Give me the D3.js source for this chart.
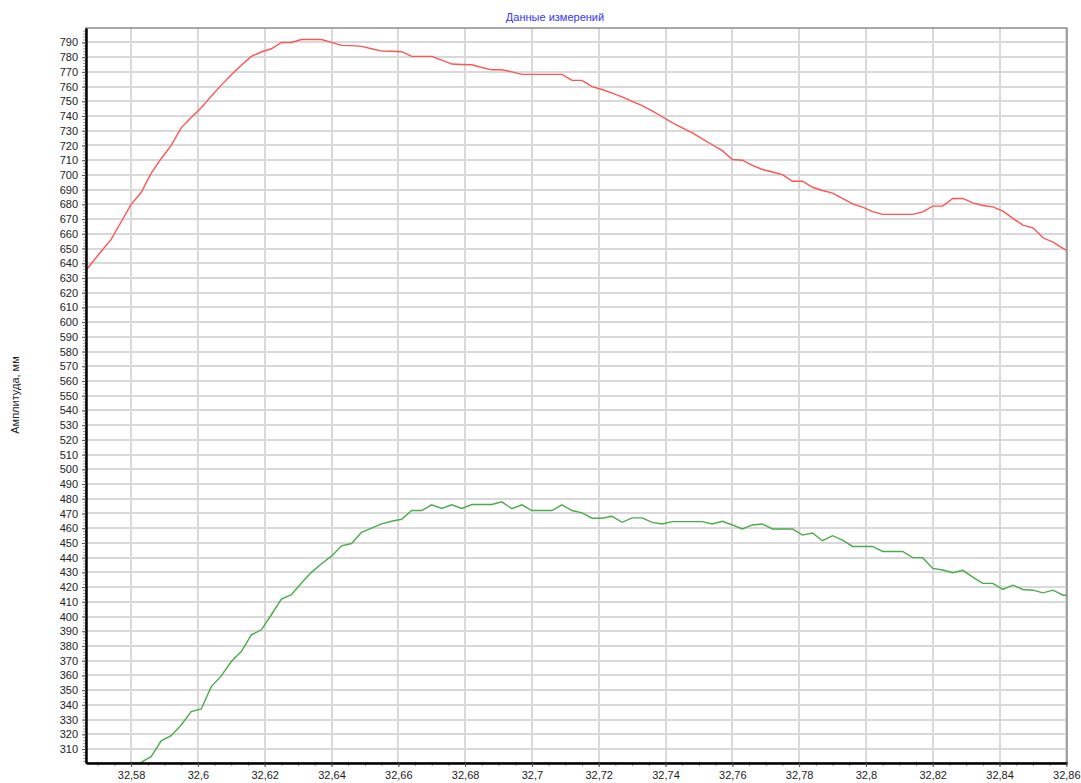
<!DOCTYPE html>
<html>

<head>
    <meta charset="utf-8">
    <script src="https://d3js.org/d3.v7.min.js"></script>
    <style>
        body { margin: 0; background: #fff; }
        text { font-family: "Liberation Sans", Arial, sans-serif; }
    </style>
</head>

<body>
    <div id="chart"></div>

    <script>
        // measured positions (x axis) and the two amplitude series
        const xs = [32.565, 32.568, 32.571, 32.574, 32.577, 32.580, 32.583, 32.586, 32.589, 32.592,
            32.595, 32.598, 32.601, 32.604, 32.607, 32.610, 32.613, 32.616, 32.619, 32.622,
            32.625, 32.628, 32.631, 32.634, 32.637, 32.640, 32.643, 32.646, 32.649, 32.652,
            32.655, 32.658, 32.661, 32.664, 32.667, 32.670, 32.673, 32.676, 32.679, 32.682,
            32.685, 32.688, 32.691, 32.694, 32.697, 32.700, 32.703, 32.706, 32.709, 32.712,
            32.715, 32.718, 32.721, 32.724, 32.727, 32.730, 32.733, 32.736, 32.739, 32.742,
            32.745, 32.748, 32.751, 32.754, 32.757, 32.760, 32.763, 32.766, 32.769, 32.772,
            32.775, 32.778, 32.781, 32.784, 32.787, 32.790, 32.793, 32.796, 32.799, 32.802,
            32.805, 32.808, 32.811, 32.814, 32.817, 32.820, 32.823, 32.826, 32.829, 32.832,
            32.835, 32.838, 32.841, 32.844, 32.847, 32.850, 32.853, 32.856, 32.859, 32.862]

        const redValues = [631, 639.5, 648, 656, 668, 680, 688, 701, 711, 720,
            732, 739, 745.6, 753.5, 761, 768, 774.5, 780.5, 783.5, 785.7,
            790, 790, 792, 792, 792, 790, 788, 787.8, 787.3, 785.7,
            784.1, 784, 783.7, 780.5, 780.5, 780.5, 778, 775.3, 775, 774.8,
            773, 771.4, 771.4, 770, 768.3, 768.3, 768.3, 768.3, 768.3, 764.2,
            764.2, 760, 758, 755.5, 753, 750, 747, 743.5, 739.5, 735.5,
            732, 728.5, 724.5, 720.5, 716.5, 710.5, 710, 706.5, 703.7, 702,
            700.2, 695.7, 695.7, 691.6, 689.4, 687.6, 684, 680.3, 678.1, 675,
            673.2, 673.2, 673.2, 673.2, 674.9, 678.8, 678.8, 684, 684, 681,
            679.2, 678.3, 675.4, 670.5, 665.9, 664.1, 657.3, 654.4, 650.1, 646.5]

        const greenValues = [null, null, null, null, null, 296.5, 301, 304.8, 315.6, 319.1,
            326.3, 335.4, 337.2, 352.4, 359.7, 369.4, 376.2, 387.6, 391, 401.2,
            411.9, 414.8, 422.8, 430, 435.9, 441, 448, 449.6, 457.2, 460.1,
            462.9, 464.7, 466.1, 472, 472, 475.9, 473.4, 475.9, 473.4, 476.1,
            476.1, 476.1, 477.9, 473.2, 475.9, 472, 472, 472, 475.9, 472,
            470.4, 466.8, 466.8, 468.1, 464, 467, 467, 464, 462.9, 464.5,
            464.5, 464.5, 464.5, 462.9, 464.7, 462.2, 459.5, 462.2, 462.9, 459.5,
            459.5, 459.5, 455.3, 456.7, 451.5, 454.9, 451.9, 447.6, 447.6, 447.6,
            444.2, 444.2, 444.2, 440, 440, 432.7, 431.6, 429.8, 431.4, 426.8,
            422.5, 422.5, 418.4, 421.3, 418.4, 417.9, 416.1, 417.9, 414.5, 414.5]

        // tick values
        const xTicks = [32.58, 32.60, 32.62, 32.64, 32.66, 32.68, 32.70, 32.72, 32.74, 32.76, 32.78, 32.80, 32.82, 32.84, 32.86]
        const yTicks = d3.range(310, 791, 10)
        const yMinorTicks = d3.range(302, 800, 2)
        const xMinorTicks = d3.range(32.570, 32.8601, 0.005)

        const titleText = "Данные измерений"
        const yLabelText = "Амплитуда, мм"

        // layout
        const W = 1081, H = 783
        const margin = { top: 28, right: 14, bottom: 20, left: 86 }
        const width = W - margin.left - margin.right,
            height = H - margin.top - margin.bottom

        const svg = d3.select("#chart").append("svg")
            .attr("width", W).attr("height", H)

        const g = svg.append("g")
            .attr("transform", `translate(${margin.left},${margin.top})`)

        const x = d3.scaleLinear().domain([32.5665, 32.8602]).range([0, width])
        const y = d3.scaleLinear().domain([300.5, 799.8]).range([height, 0])

        // grid lines
        g.append("g").selectAll("line").data(yTicks).join("line")
            .attr("x1", 0).attr("x2", width)
            .attr("y1", d => Math.round(y(d))).attr("y2", d => Math.round(y(d)))
            .attr("stroke", "#d9d9d9").attr("stroke-width", 2)
        g.append("g").selectAll("line").data(xTicks).join("line")
            .attr("x1", d => Math.round(x(d))).attr("x2", d => Math.round(x(d)))
            .attr("y1", 0).attr("y2", height)
            .attr("stroke", "#d9d9d9").attr("stroke-width", 2)

        // frame (top / right)
        g.append("rect")
            .attr("x", 0).attr("y", 0).attr("width", width).attr("height", height)
            .attr("fill", "none").attr("stroke", "#8a8a8a").attr("stroke-width", 1.5)

        // lines, clipped to the plot
        g.append("clipPath").attr("id", "clip")
            .append("rect").attr("width", width).attr("height", height)

        const series = [
            { values: redValues, color: "#ff5454" },
            { values: greenValues, color: "#4caa4c" }
        ]

        const line = d3.line()
            .defined(d => d[1] != null)
            .x(d => x(d[0]))
            .y(d => y(d[1]))

        g.append("g").attr("clip-path", "url(#clip)")
            .selectAll("path").data(series).join("path")
            .attr("d", s => line(xs.map((v, i) => [v, s.values[i]])))
            .attr("fill", "none")
            .attr("stroke", s => s.color)
            .attr("stroke-width", 1.4)

        // y axis: minor + major ticks
        g.append("g")
            .call(d3.axisLeft(y).tickValues(yMinorTicks).tickSize(3).tickFormat(""))
            .call(a => a.select(".domain").remove())
            .selectAll("line").attr("stroke", "#9a9a9a")

        const yAxis = g.append("g")
            .call(d3.axisLeft(y).tickValues(yTicks).tickSize(4).tickPadding(4).tickSizeOuter(0))
        yAxis.select(".domain").attr("stroke", "#000").attr("stroke-width", 2.5)
        yAxis.selectAll("text").attr("fill", "#222").style("font-size", "11px")
        yAxis.selectAll(".tick line").attr("stroke", "#555")

        // x axis: minor + major ticks
        g.append("g")
            .attr("transform", `translate(0,${height})`)
            .call(d3.axisBottom(x).tickValues(xMinorTicks).tickSize(3).tickFormat(""))
            .call(a => a.select(".domain").remove())
            .selectAll("line").attr("stroke", "#9a9a9a")

        const fmt = d => d3.format(".2~f")(d).replace(".", ",")
        const xAxis = g.append("g")
            .attr("transform", `translate(0,${height})`)
            .call(d3.axisBottom(x).tickValues(xTicks).tickSize(4).tickPadding(4).tickSizeOuter(0).tickFormat(fmt))
        xAxis.select(".domain").attr("stroke", "#000").attr("stroke-width", 2.5)
        xAxis.selectAll("text").attr("fill", "#222").style("font-size", "11px")
        xAxis.selectAll(".tick line").attr("stroke", "#555")

        // title
        svg.append("text")
            .attr("x", 555).attr("y", 21)
            .attr("text-anchor", "middle")
            .attr("fill", "#3535ff")
            .style("font-size", "11px")
            .text(titleText)

        // y axis title
        svg.append("text")
            .attr("transform", "translate(19,395) rotate(-90)")
            .attr("text-anchor", "middle")
            .attr("fill", "#222")
            .style("font-size", "11px")
            .text(yLabelText)
    </script>
</body>

</html>
